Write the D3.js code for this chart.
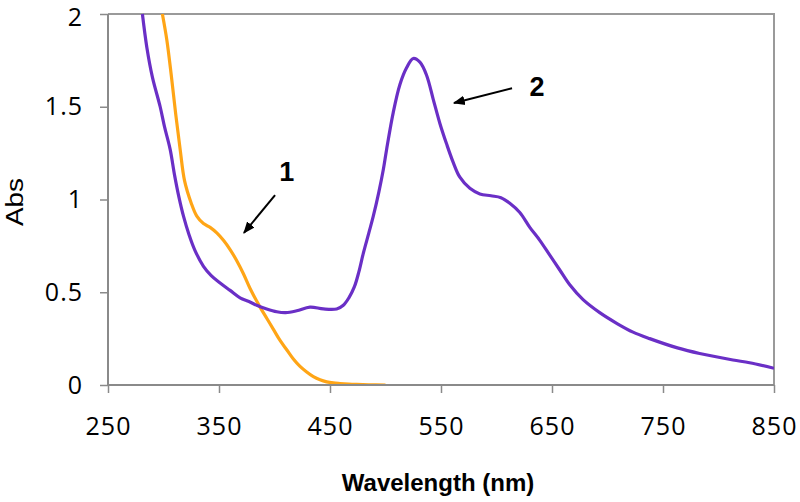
<!DOCTYPE html>
<html>
<head>
<meta charset="utf-8">
<script src="https://cdn.jsdelivr.net/npm/d3@7"></script>
<style>
  html, body { margin: 0; padding: 0; background: #fff; }
  svg { display: block; }
</style>
</head>
<body>
<svg id="chart" width="800" height="502"></svg>
<script>
// ---- data ----
const xTicks = [250, 350, 450, 550, 650, 750, 850];
const yTicks = [0, 0.5, 1, 1.5, 2];
const xLabel = "Wavelength (nm)";
const yLabel = "Abs";

// compound 2 (purple)
const wl2  = [281, 285, 290, 297, 301, 306, 310, 314, 318, 323, 328, 336, 343, 351, 360, 369, 377, 384, 393, 402, 410, 420, 432, 444, 456, 462, 467, 472, 476, 480, 485, 489, 494, 498, 501, 507, 513, 519, 525, 531, 537, 543, 549, 555, 561, 567, 576, 585, 595, 604, 612, 621, 630, 639, 648, 657, 666, 678, 693, 709, 723, 738, 763, 783, 813, 828, 850];
const abs2 = [2.00, 1.82, 1.66, 1.50, 1.39, 1.27, 1.13, 1.01, 0.91, 0.81, 0.73, 0.64, 0.59, 0.55, 0.51, 0.47, 0.45, 0.43, 0.41, 0.395, 0.39, 0.40, 0.42, 0.41, 0.41, 0.43, 0.47, 0.53, 0.61, 0.71, 0.82, 0.91, 1.04, 1.16, 1.27, 1.47, 1.62, 1.71, 1.76, 1.74, 1.67, 1.54, 1.41, 1.30, 1.20, 1.12, 1.06, 1.03, 1.02, 1.01, 0.98, 0.93, 0.85, 0.78, 0.70, 0.62, 0.54, 0.46, 0.39, 0.33, 0.285, 0.25, 0.20, 0.17, 0.135, 0.12, 0.09];

// compound 1 (orange)
const wl1  = [299, 303, 307, 311, 315, 319, 325, 330, 336, 342, 348, 354, 360, 366, 372, 378, 387, 393, 399, 405, 411, 417, 423, 429, 435, 441, 447, 453, 459, 467, 474, 485, 500];
const abs1 = [2.00, 1.86, 1.67, 1.46, 1.27, 1.10, 0.98, 0.91, 0.87, 0.85, 0.82, 0.78, 0.73, 0.67, 0.60, 0.52, 0.42, 0.36, 0.30, 0.24, 0.19, 0.14, 0.10, 0.07, 0.045, 0.028, 0.017, 0.011, 0.008, 0.005, 0.003, 0.001, 0];

// annotations (in data units): label text, label anchor, arrow start, arrow end
const annLabels = ["1", "2"];
const annLabelAt = [[411, 1.15], [636.5, 1.61]];
const annArrowFrom = [[400.5, 1.024], [614, 1.60]];
const annArrowTo = [[372.5, 0.82], [561.7, 1.52]];

// ---- drawing ----
const svg = d3.select("#chart");
const x = d3.scaleLinear().domain([250, 850]).range([108, 774]);
const y = d3.scaleLinear().domain([0, 2]).range([385, 14]);

const axisColor = "#8a8a8a";
const tickFont = "'Open Sans', 'DejaVu Sans', sans-serif";

// clip
const defs = svg.append("defs");
defs.append("clipPath").attr("id", "plotclip")
  .append("rect").attr("x", x(250)).attr("y", y(2) - 1)
  .attr("width", x(850) - x(250)).attr("height", y(0) - y(2) + 1);

// frame (top and right)
svg.append("path")
  .attr("d", `M${x(250)},${y(2)}H${x(850)}V${y(0)}`)
  .attr("fill", "none").attr("stroke", "#9a9a9a").attr("stroke-width", 2);

// data lines
const line = d3.line().x(d => x(d[0])).y(d => y(d[1])).curve(d3.curveCatmullRom.alpha(0.5));
const g = svg.append("g").attr("clip-path", "url(#plotclip)");
g.append("path").datum(wl1.map((w, i) => [w, abs1[i]]))
  .attr("d", line).attr("fill", "none")
  .attr("stroke", "#ffa516").attr("stroke-width", 3.2).attr("stroke-linejoin", "round");
g.append("path").datum(wl2.map((w, i) => [w, abs2[i]]))
  .attr("d", line).attr("fill", "none")
  .attr("stroke", "#6a2fc6").attr("stroke-width", 3.2).attr("stroke-linejoin", "round");

// axes
const yAxis = svg.append("g").attr("transform", `translate(${x(250)},0)`)
  .call(d3.axisLeft(y).tickValues(yTicks).tickSize(8).tickPadding(17)
    .tickFormat(d => String(d)));
const xAxis = svg.append("g").attr("transform", `translate(0,${y(0)})`)
  .call(d3.axisBottom(x).tickValues(xTicks).tickSize(8).tickPadding(24)
    .tickFormat(d => String(d)));
[yAxis, xAxis].forEach(a => {
  a.select(".domain").attr("stroke", axisColor).attr("stroke-width", 2);
  a.selectAll(".tick line").attr("stroke", axisColor).attr("stroke-width", 1.5);
  a.selectAll(".tick text").attr("fill", "#000")
    .style("font-family", tickFont).style("font-size", "25px")
    .style("letter-spacing", "1px");
});
// top y label sits slightly lower so it stays inside the picture
yAxis.selectAll(".tick").filter(d => d === 2).select("text").attr("dy", "0.45em");
yAxis.select(".domain").attr("d", `M0,${y(2)}V${y(0)}`);
xAxis.select(".domain").attr("d", `M${x(250)},0H${x(850)}`);

// axis titles
svg.append("text").text(xLabel)
  .attr("x", 438).attr("y", 491).attr("text-anchor", "middle")
  .style("font-family", "'Liberation Sans', Arial, sans-serif")
  .style("font-weight", "bold").style("font-size", "24px");
svg.append("text").text(yLabel)
  .attr("transform", "translate(23,202) rotate(-90)")
  .attr("text-anchor", "middle")
  .attr("textLength", 48).attr("lengthAdjust", "spacingAndGlyphs")
  .style("font-family", "'Liberation Sans', Arial, sans-serif")
  .style("font-size", "23px");

// arrow marker
defs.append("marker")
  .attr("id", "arrowhead").attr("viewBox", "0 0 10 10")
  .attr("refX", 9).attr("refY", 5)
  .attr("markerWidth", 6).attr("markerHeight", 6)
  .attr("markerUnits", "strokeWidth")
  .attr("orient", "auto")
  .append("path").attr("d", "M0,1L10,5L0,9Z").attr("fill", "#000");

annLabels.forEach((t, i) => {
  svg.append("line")
    .attr("x1", x(annArrowFrom[i][0])).attr("y1", y(annArrowFrom[i][1]))
    .attr("x2", x(annArrowTo[i][0])).attr("y2", y(annArrowTo[i][1]))
    .attr("stroke", "#000").attr("stroke-width", 2)
    .attr("marker-end", "url(#arrowhead)");
  svg.append("text").text(t)
    .attr("x", x(annLabelAt[i][0])).attr("y", y(annLabelAt[i][1]))
    .attr("dy", "0.36em").attr("text-anchor", "middle")
    .style("font-family", "'Liberation Sans', Arial, sans-serif")
    .style("font-weight", "bold").style("font-size", "27px");
});
</script>
</body>
</html>
